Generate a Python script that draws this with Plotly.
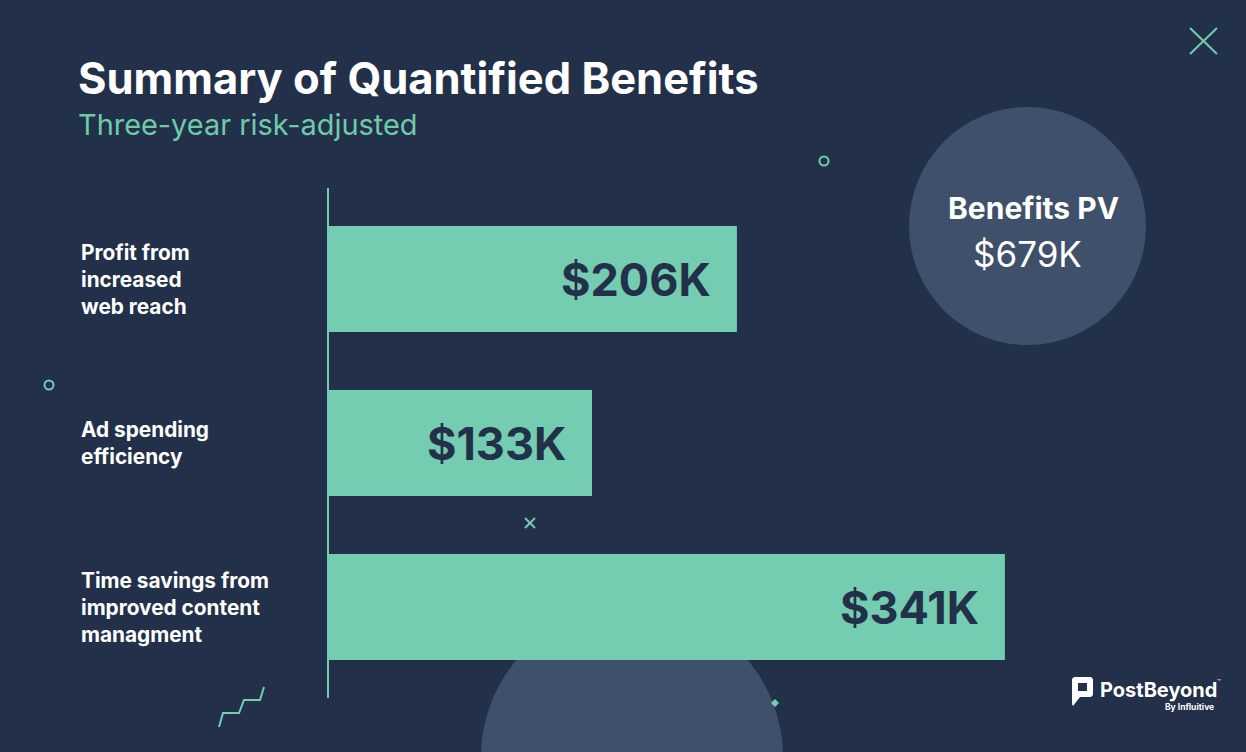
import plotly.graph_objects as go

W, H = 1246, 752

categories = ["Profit from<br>increased<br>web reach", "Ad spending<br>efficiency",
              "Time savings from<br>improved content<br>managment"]
values = [206, 133, 341]
value_labels = ["$206K", "$133K", "$341K"]
title = "Summary of Quantified Benefits"
subtitle = "Three-year risk-adjusted"
total_title = "Benefits PV"
total_value = "$679K"

BG = "#233049"
TEAL = "#74cdb0"
NAVY = "#233049"
CIRCLE = "#3e506a"
FONT = "Inter"


def px(x):
    return x / W


def py(y):
    return 1 - y / H


ids = list(range(len(categories)))

fig = go.Figure()
fig.add_trace(go.Bar(
    x=values, y=ids, orientation="h",
    marker=dict(color=TEAL, line=dict(width=0)),
    hoverinfo="skip", showlegend=False,
))

annotations = []
for i, (v, lab) in enumerate(zip(values, value_labels)):
    annotations.append(dict(
        x=v, y=i, xref="x", yref="y", text=f"<b>{lab}</b>", showarrow=False,
        xanchor="right", yanchor="middle", xshift=-24,
        font=dict(family=FONT, size=45, color=NAVY),
    ))
for i, c in enumerate(categories):
    annotations.append(dict(
        x=px(79), y=i, xref="paper", yref="y", text=f"<b>{c}</b>", showarrow=False,
        xanchor="left", yanchor="middle", align="left",
        font=dict(family=FONT, size=20.8, color="white"),
    ))

annotations += [
    dict(x=px(76), y=py(78), xref="paper", yref="paper", text=f"<b>{title}</b>",
         showarrow=False, xanchor="left", yanchor="middle",
         font=dict(family=FONT, size=43.5, color="white")),
    dict(x=px(76), y=py(125), xref="paper", yref="paper", text=subtitle,
         showarrow=False, xanchor="left", yanchor="middle",
         font=dict(family=FONT, size=28.9, color="#6fcaa9")),
    dict(x=px(1033), y=py(208), xref="paper", yref="paper", text=f"<b>{total_title}</b>",
         showarrow=False, xanchor="center", yanchor="middle",
         font=dict(family=FONT, size=30, color="white")),
    dict(x=px(1027), y=py(254), xref="paper", yref="paper", text=total_value,
         showarrow=False, xanchor="center", yanchor="middle",
         font=dict(family=FONT, size=35, color="white")),
    dict(x=px(1098), y=py(690), xref="paper", yref="paper", text="<b>PostBeyond</b>",
         showarrow=False, xanchor="left", yanchor="middle",
         font=dict(family=FONT, size=20, color="white")),
    dict(x=px(1215), y=py(681), xref="paper", yref="paper", text="™",
         showarrow=False, xanchor="left", yanchor="middle",
         font=dict(family=FONT, size=6, color="white")),
    dict(x=px(1216), y=py(707), xref="paper", yref="paper", text="<b>By Influitive</b>",
         showarrow=False, xanchor="right", yanchor="middle",
         font=dict(family=FONT, size=8.5, color="white")),
]

shapes = []
# bottom big circle (behind bars)
shapes.append(dict(type="circle", xref="paper", yref="paper", layer="below",
                   x0=px(632 - 151), x1=px(632 + 151), y0=py(757 + 151), y1=py(757 - 151),
                   fillcolor=CIRCLE, line=dict(width=0)))
# benefits circle
shapes.append(dict(type="circle", xref="paper", yref="paper", layer="below",
                   x0=px(909), x1=px(1146), y0=py(345), y1=py(107),
                   fillcolor=CIRCLE, line=dict(width=0)))
# axis line
shapes.append(dict(type="line", xref="paper", yref="paper",
                   x0=px(328), x1=px(328), y0=py(188), y1=py(698),
                   line=dict(color=TEAL, width=2)))
# top right X
for (a, b, c, d) in [(1190, 28, 1217, 54), (1217, 28, 1190, 54)]:
    shapes.append(dict(type="line", xref="paper", yref="paper",
                       x0=px(a), y0=py(b), x1=px(c), y1=py(d),
                       line=dict(color=TEAL, width=2)))
# small x
for (a, b, c, d) in [(525, 518, 535, 528), (535, 518, 525, 528)]:
    shapes.append(dict(type="line", xref="paper", yref="paper",
                       x0=px(a), y0=py(b), x1=px(c), y1=py(d),
                       line=dict(color=TEAL, width=2)))
# small rings
for (cx, cy) in [(824, 161), (49, 385)]:
    shapes.append(dict(type="circle", xref="paper", yref="paper",
                       x0=px(cx - 4.5), x1=px(cx + 4.5), y0=py(cy + 4.5), y1=py(cy - 4.5),
                       line=dict(color=TEAL, width=2)))
# zigzag
zz = [(219, 727), (223, 713), (239, 713), (244, 700), (260, 700), (264, 687)]
path = "M " + " L ".join(f"{px(x)},{py(y)}" for x, y in zz)
shapes.append(dict(type="path", xref="paper", yref="paper", path=path,
                   line=dict(color=TEAL, width=2)))
# diamond
d = [(775, 699), (779, 703), (775, 707), (771, 703)]
shapes.append(dict(type="path", xref="paper", yref="paper",
                   path="M " + " L ".join(f"{px(x)},{py(y)}" for x, y in d) + " Z",
                   fillcolor=TEAL, line=dict(width=0)))
# logo icon
icon = [(1074, 677), (1091, 677), (1093, 679), (1093, 695), (1091, 697), (1080, 697),
        (1073, 706), (1072, 704), (1072, 679)]
shapes.append(dict(type="path", xref="paper", yref="paper",
                   path="M " + " L ".join(f"{px(x)},{py(y)}" for x, y in icon) + " Z",
                   fillcolor="white", line=dict(width=0)))
shapes.append(dict(type="rect", xref="paper", yref="paper",
                   x0=px(1078), x1=px(1087), y0=py(691), y1=py(683),
                   fillcolor=BG, line=dict(width=0)))

fig.update_layout(
    width=W, height=H,
    margin=dict(l=0, r=0, t=0, b=0),
    paper_bgcolor=BG, plot_bgcolor="rgba(0,0,0,0)",
    bargap=0.354,
    xaxis=dict(domain=[px(328), 1], range=[0, 918 / 1.985], visible=False, fixedrange=True),
    yaxis=dict(domain=[py(689), py(197)], range=[2.5, -0.5], visible=False, fixedrange=True),
    annotations=annotations,
    shapes=shapes,
    showlegend=False,
)

fig.write_html(
    "out.html",
    config={"displayModeBar": False, "staticPlot": True},
    post_script="document.body.style.margin='0';document.body.style.padding='0';"
                "document.body.style.background='" + BG + "';",
)
